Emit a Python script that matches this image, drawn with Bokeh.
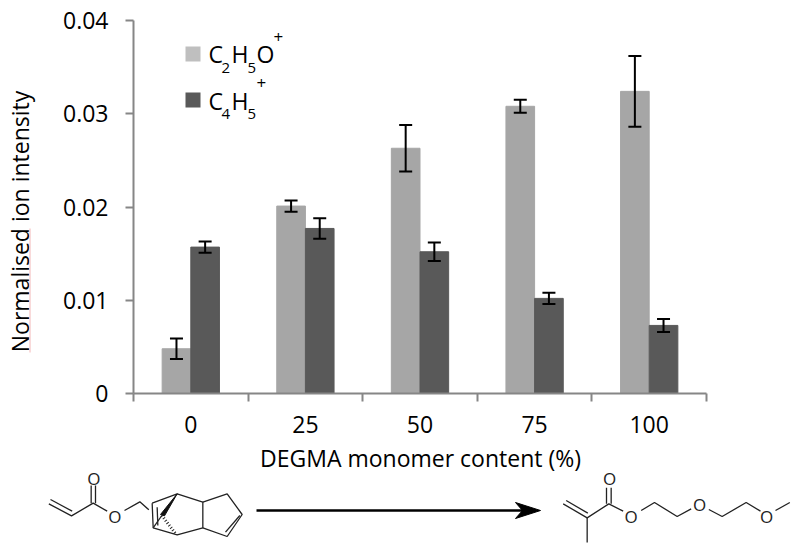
from bokeh.plotting import figure
from bokeh.embed import file_html
from bokeh.resources import INLINE
from bokeh.layouts import column, row
from bokeh.models import (ColumnDataSource, Whisker, FixedTicker, Label, BoxAnnotation, Range1d)
from bokeh.core.properties import value
import math

categories = ["0", "25", "50", "75", "100"]
c2h5o = [0.0048, 0.0201, 0.0263, 0.0308, 0.0324]
c2h5o_low = [0.0037, 0.0195, 0.0238, 0.0301, 0.0286]
c2h5o_high = [0.0059, 0.0207, 0.0288, 0.0315, 0.0362]
c4h5 = [0.0157, 0.0177, 0.0152, 0.0102, 0.0073]
c4h5_low = [0.0151, 0.0166, 0.0142, 0.0096, 0.0066]
c4h5_high = [0.0163, 0.0188, 0.0162, 0.0108, 0.0080]
y_ticks = [0, 0.01, 0.02, 0.03, 0.04]
y_labels = ["0", "0.01", "0.02", "0.03", "0.04"]
x_title = "DEGMA monomer content (%)"
y_title = "Normalised ion intensity"

FONT = "Open Sans"
LIGHT, DARK, LEG_LIGHT = "#a6a6a6", "#595959", "#bfbfbf"
AXIS = "#868686"
W, H = 792, 440      # total width, height of the chart row
SW = 40              # width of the strip holding the y title
X0, T, FW, FH = 133, 20, 573, 373   # frame position on the page
SIZE = 23

def strip(width, height, xr, yr):
    f = figure(width=width, height=height, output_backend="svg", toolbar_location=None,
               x_range=Range1d(*xr), y_range=Range1d(*yr),
               min_border=0, min_border_left=0, min_border_right=0, min_border_top=0, min_border_bottom=0,
               outline_line_color=None, background_fill_color="white", border_fill_color="white")
    f.frame_align = False
    f.axis.visible = False
    f.grid.visible = False
    return f

p = figure(width=W - SW, height=H, output_backend="svg", toolbar_location=None,
           x_range=Range1d(0, 5), y_range=Range1d(0, 0.04),
           min_border_left=X0 - SW, min_border_top=T, min_border_right=W - X0 - FW, min_border_bottom=H - T - FH,
           outline_line_color=None, background_fill_color="white", border_fill_color="white")
p.frame_align = False
p.grid.visible = False

centers = [i + 0.5 for i in range(len(categories))]
bw = 0.25
light = ColumnDataSource(dict(x=[c - bw/2 for c in centers], top=c2h5o, lo=c2h5o_low, hi=c2h5o_high))
dark = ColumnDataSource(dict(x=[c + bw/2 for c in centers], top=c4h5, lo=c4h5_low, hi=c4h5_high))
p.vbar(x="x", top="top", bottom=0, width=bw, color=LIGHT, source=light)
p.vbar(x="x", top="top", bottom=0, width=bw, color=DARK, source=dark)
for s in (light, dark):
    w = Whisker(base="x", lower="lo", upper="hi", source=s, line_color="black", line_width=2, level="overlay")
    w.upper_head.size = 13; w.lower_head.size = 13
    w.upper_head.line_width = 2; w.lower_head.line_width = 2
    w.upper_head.line_color = "black"; w.lower_head.line_color = "black"
    p.add_layout(w)

xa = p.xaxis[0]
xa.ticker = FixedTicker(ticks=centers, minor_ticks=list(range(len(categories) + 1)))
xa.major_label_overrides = {c: t for c, t in zip(centers, categories)}
xa.major_tick_out = 0; xa.major_tick_in = 0
xa.minor_tick_out = 8; xa.minor_tick_in = 0
xa.minor_tick_line_color = AXIS; xa.minor_tick_line_width = 2
xa.axis_line_color = AXIS; xa.axis_line_width = 2
xa.major_label_text_font = FONT; xa.major_label_text_font_size = f"{SIZE}px"; xa.major_label_text_color = "black"
xa.major_label_standoff = 14

ya = p.yaxis[0]
ya.ticker = FixedTicker(ticks=y_ticks)
ya.major_label_overrides = {t: s for t, s in zip(y_ticks, y_labels)}
ya.major_tick_out = 8; ya.major_tick_in = 0
ya.major_tick_line_color = AXIS; ya.major_tick_line_width = 2
ya.minor_tick_out = 0; ya.minor_tick_in = 0
ya.axis_line_color = AXIS; ya.axis_line_width = 2
ya.major_label_text_font = FONT; ya.major_label_text_font_size = f"{SIZE}px"; ya.major_label_text_color = "black"
ya.major_label_standoff = 17

# annotation "screen" units are measured from the plot frame's bottom-left corner
def sx(X):
    return X - X0
def sy(Y):
    return T + FH - Y

def lab(text, x, y, size=SIZE):
    p.add_layout(Label(x=sx(x), y=sy(y), x_units="screen", y_units="screen", text=text,
                       text_font=FONT, text_font_size=f"{size}px", text_color="black",
                       text_align="left", text_baseline="middle"))

def box(x0, x1, y0, y1, col):
    p.add_layout(BoxAnnotation(left=sx(x0), right=sx(x1), top=sy(y0), bottom=sy(y1),
                               left_units="screen", right_units="screen", top_units="screen", bottom_units="screen",
                               fill_color=col, fill_alpha=1, line_color=None, level="overlay"))

# legend
box(185, 200, 46, 61, LEG_LIGHT)
box(185, 200, 92, 107, DARK)
for text, x, y, size in [("C", 208, 53, SIZE), ("2", 221, 67, 15), ("H", 231, 53, SIZE), ("5", 247, 67, 15),
                         ("O", 256, 53, SIZE), ("+", 273, 36, 17),
                         ("C", 208, 100, SIZE), ("4", 221, 113, 15), ("H", 231, 100, SIZE), ("5", 247, 113, 15),
                         ("+", 256, 82, 17)]:
    lab(text, x, y, size)

# y title strip
s = strip(SW, H, (0, SW), (H, 0))
s.text([19], [221], text=[y_title], angle=math.pi / 2, text_font=value(FONT), text_font_size=f"{SIZE}px",
       text_align="center", text_baseline="middle", text_color="black")
s.line([29.5, 29.5], [228, 352], line_color="#f4b6b6", line_width=1)

# x title and chemical structures strip
QH = 105
q = strip(W, QH, (0, W), (H + QH, H))
q.text([420], [457], text=[x_title], text_font=value(FONT), text_font_size=f"{SIZE}px",
       text_align="center", text_baseline="middle", text_color="black")

def z1(pts):
    return [a / 3 for a, b in pts], [440 + b / 3 for a, b in pts]
def z2(pts):
    return [400 + a / 3 for a, b in pts], [440 + b / 3 for a, b in pts]

left_bonds = [
    [(145, 190), (213, 226), (278, 188), (320, 212)],
    [(150, 177), (215, 212)],
    [(272, 188), (272, 135)], [(285, 188), (285, 135)],
    [(372, 210), (418, 184), (445, 208)],
    [(455, 188), (530, 160), (607, 185), (607, 262), (530, 283), (458, 262), (455, 188)],
    [(470, 200), (472, 255)],
    [(607, 185), (680, 160), (725, 222), (680, 288), (607, 262)],
    [(718, 225), (675, 275)],
    [(458, 262), (484, 225)],
]
right_bonds = [
    [(488, 190), (560, 232), (625, 190), (668, 212)],
    [(497, 180), (562, 218)],
    [(560, 232), (560, 306)],
    [(618, 190), (618, 142)], [(632, 190), (632, 142)],
    [(722, 210), (762, 186), (830, 228), (872, 205)],
    [(925, 207), (965, 228), (1037, 186), (1080, 212)],
    [(1125, 210), (1168, 186)],
]
for bonds, f in ((left_bonds, z1), (right_bonds, z2)):
    for b in bonds:
        xs, ys = f(b)
        q.line(xs, ys, line_color="#222222", line_width=1.3)
xs, ys = z1([(530, 160), (480, 222), (492, 226)])
q.patch(xs, ys, color="#111111")
xs, ys = z1([(484, 225), (527, 282)])
q.line(xs, ys, line_color="#222222", line_width=3, line_dash="1 2")
for x, y, f in [(280, 113, z1), (343, 227, z1), (627, 115, z2), (692, 228, z2), (897, 192, z2), (1098, 228, z2)]:
    a, b = f([(x, y)])
    q.text(a, b, text=["O"], text_font=value(FONT), text_font_size="17px", text_align="center",
           text_baseline="middle", text_color="#222222")

q.line([256, 525], [510, 510], line_color="black", line_width=2.5)
q.patch([515, 540, 515, 522], [502, 510, 518, 510], color="black")

layout = column(row(s, p, spacing=0), q, spacing=0)
open("out.html", "w").write(file_html(layout, INLINE))
